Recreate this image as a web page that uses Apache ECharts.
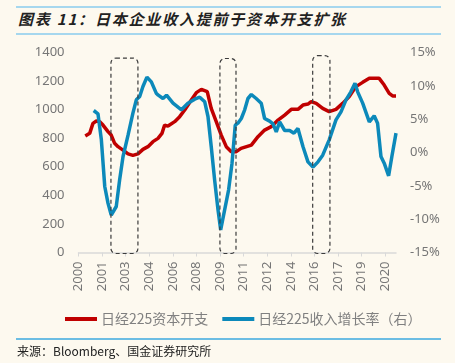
<!DOCTYPE html>
<html><head><meta charset="utf-8">
<script src="https://cdn.jsdelivr.net/npm/echarts@6/dist/echarts.min.js"></script>
<style>
html,body{margin:0;padding:0;background:#FDF9EF;}
#wrap{position:relative;width:455px;height:363px;overflow:hidden;background:#FDF9EF;}
#chart{position:absolute;left:0;top:0;width:455px;height:363px;}
.hl{position:absolute;left:16px;width:425px;height:2px;background:#A6D7EE;}
#title{position:absolute;left:18px;top:8px;font-family:'Noto Sans CJK SC',sans-serif;font-style:italic;font-weight:bold;font-size:15px;line-height:22px;letter-spacing:1.8px;color:#222;white-space:nowrap;}
#src{position:absolute;left:17px;top:343px;font-family:'Noto Sans CJK SC',sans-serif;font-size:12px;line-height:16px;color:#222;white-space:nowrap;}
</style>
</head><body>
<div id="wrap">
  <div class="hl" style="top:6px"></div>
  <div id="title">图表 11：日本企业收入提前于资本开支扩张</div>
  <div class="hl" style="top:33px"></div>
  <div id="chart"></div>
  <div class="hl" style="top:338px;height:1.5px;background:#6CBDE3"></div>
  <div id="src">来源：Bloomberg、国金证券研究所</div>
</div>
<script>
// ---- data (x in fractional years) ----
const capexName = '日经225资本开支';
const revName = '日经225收入增长率（右）';
const xTickLabels = ['2000','2001','2003','2004','2006','2008','2009','2011','2012','2014','2016','2017','2019','2020'];
const leftTicks = [0, 1400, 200];
const rightTicks = [-15, 15, 5];

const capexYears = [2000.46,2000.76,2000.98,2001.21,2001.44,2001.66,2002.0,2002.22,2002.45,2002.68,2003.02,2003.36,2003.69,2004.03,2004.37,2004.71,2005.05,2005.39,2005.66,2005.84,2006.07,2006.52,2006.86,2007.2,2007.65,2007.99,2008.33,2008.73,2009.0,2009.34,2009.68,2010.02,2010.36,2010.7,2011.02,2011.72,2012.17,2012.62,2013.07,2013.53,2013.98,2014.43,2014.88,2015.22,2015.56,2015.78,2016.12,2016.56,2017.0,2017.46,2017.91,2018.36,2018.81,2019.27,2019.72,2020.39,2020.73,2021.07,2021.3,2021.53];
const capexValues = [815,834,904,920,916,892,846,822,764,741,717,690,680,690,722,741,776,799,834,892,885,916,951,998,1068,1119,1142,1126,1009,916,822,741,706,706,729,752,811,857,881,927,962,1002,1002,1032,1039,1056,1044,1009,986,1002,1044,1091,1161,1191,1219,1219,1172,1114,1096,1096];

const revYears = [2001.03,2001.32,2001.55,2001.78,2002.0,2002.22,2002.56,2002.79,2003.02,2003.36,2003.69,2003.92,2004.15,2004.37,2004.64,2004.94,2005.27,2005.41,2005.73,2005.97,2006.41,2006.98,2007.42,2007.88,2008.22,2008.56,2008.78,2009.0,2009.23,2009.46,2009.64,2009.91,2010.18,2010.41,2010.63,2010.81,2011.04,2011.27,2011.49,2011.72,2012.05,2012.39,2012.62,2012.96,2013.19,2013.41,2013.64,2013.98,2014.32,2014.61,2014.88,2015.22,2015.56,2015.9,2016.24,2016.56,2017.0,2017.46,2017.8,2018.14,2018.47,2018.75,2018.93,2019.27,2019.72,2020.05,2020.28,2020.51,2020.73,2021.03,2021.25,2021.53];
const revValues = [6.3,5.8,1.9,-5.1,-7.6,-9.4,-8.1,-4.1,-0.6,2.6,5.9,7.9,8.4,9.9,11.3,10.6,8.9,8.6,8.1,8.6,7.4,6.4,7.4,8.0,8.3,7.6,5.4,0.9,-4.1,-8.6,-11.6,-8.6,-5.6,-1.6,4.1,4.4,5.1,6.4,8.1,8.7,8.1,7.4,5.1,4.7,4.3,3.1,4.6,3.3,3.3,2.9,3.6,0.9,-1.4,-2.2,-1.4,-0.4,1.9,4.9,6.1,7.9,9.1,10.4,9.1,7.4,4.6,5.5,4.4,-0.6,-1.6,-3.5,-0.6,2.9];

// highlighted periods (dashed boxes): start year, end year, top value (left axis)
const boxStart = [2002.2, 2009.59, 2015.88];
const boxEnd = [2004.03, 2010.68, 2017.05];
const boxTop = [1361, 1358, 1378];

const xMin = 2000, xMax = 2021.53, xStep = 1.6;

const capexData = capexYears.map((y, i) => [y, capexValues[i]]);
const revData = revYears.map((y, i) => [y, revValues[i]]);

const chart = echarts.init(document.getElementById('chart'), null, {renderer: 'canvas'});
const labelColor = '#767676';
const option = {
  backgroundColor: 'transparent',
  animation: false,
  grid: {left: 78.5, right: 59, top: 52.5, bottom: 110.5, containLabel: false},
  legend: {
    left: 60, top: 307,
    itemWidth: 32, itemHeight: 4, itemGap: 14,
    icon: 'rect',
    textStyle: {color: '#808080', fontSize: 14, fontFamily: 'Noto Sans CJK SC', padding: [0,0,0,-1]},
    data: [capexName, revName]
  },
  xAxis: {
    type: 'value', min: xMin, max: xMax, interval: xStep,
    axisLine: {show: true, lineStyle: {color: '#D9D9D9', width: 1.5}},
    axisTick: {show: true, length: 4, lineStyle: {color: '#D9D9D9'}},
    splitLine: {show: false},
    axisLabel: {
      rotate: 90, margin: 9, color: labelColor, fontSize: 13, fontFamily: 'Noto Sans',
      showMaxLabel: false,
      formatter: (v, i) => xTickLabels[i] !== undefined ? xTickLabels[i] : ''
    }
  },
  yAxis: [
    {type: 'value', min: leftTicks[0], max: leftTicks[1], interval: leftTicks[2],
     axisLine: {show: false}, axisTick: {show: false}, splitLine: {show: false},
     axisLabel: {margin: 14, color: labelColor, fontSize: 13, fontFamily: 'Noto Sans', formatter: v => String(v)}},
    {type: 'value', min: rightTicks[0], max: rightTicks[1], interval: rightTicks[2],
     axisLine: {show: false}, axisTick: {show: false}, splitLine: {show: false},
     axisLabel: {margin: 14, color: labelColor, fontSize: 13, fontFamily: 'Noto Sans', formatter: v => v + '%'}}
  ],
  series: [
    {name: capexName, type: 'line', yAxisIndex: 0, data: capexData, showSymbol: false,
     lineStyle: {color: '#C00000', width: 3.5}, itemStyle: {color: '#C00000'}, z: 2},
    {name: revName, type: 'line', yAxisIndex: 1, data: revData, showSymbol: false,
     lineStyle: {color: '#0C89BA', width: 3.5}, itemStyle: {color: '#0C89BA'}, z: 3}
  ]
};
chart.setOption(option);

const graphics = boxStart.map((s, i) => {
  const p0 = chart.convertToPixel({xAxisIndex: 0, yAxisIndex: 0}, [s, boxTop[i]]);
  const p1 = chart.convertToPixel({xAxisIndex: 0, yAxisIndex: 0}, [boxEnd[i], 0]);
  return {
    type: 'rect', z: 10,
    shape: {x: p0[0], y: p0[1], width: p1[0] - p0[0], height: p1[1] - p0[1] + 1, r: 5},
    style: {fill: 'none', stroke: '#3C3C3C', lineWidth: 1.2, lineDash: [4, 3]}
  };
});
chart.setOption({graphic: graphics});
</script>
</body></html>
